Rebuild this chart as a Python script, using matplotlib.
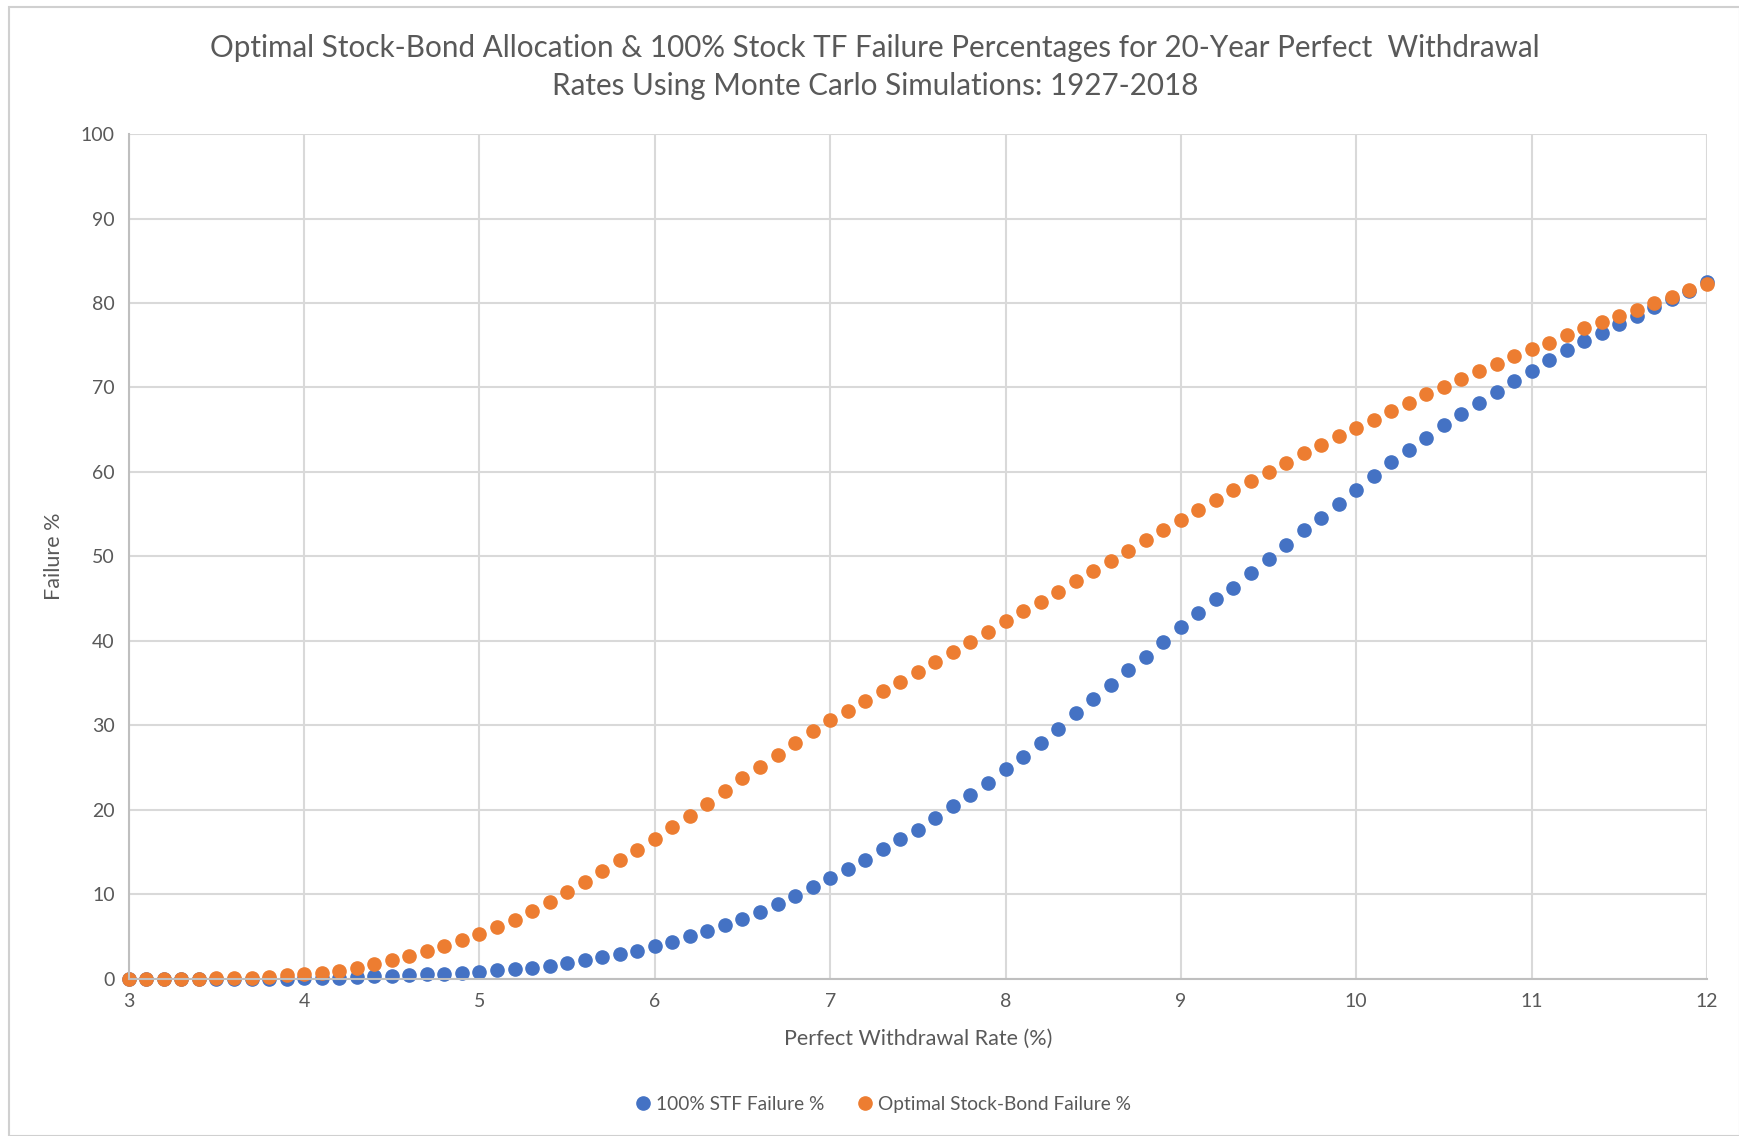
import numpy as np
import matplotlib
matplotlib.use('Agg')
import matplotlib.pyplot as plt

plt.rcParams['font.family'] = ['Lato', 'DejaVu Sans']

# withdrawal rates 3.0 .. 12.0 step 0.1
rates = [round(3.0 + 0.1 * i, 1) for i in range(91)]

stf_fail = [
    0, 0, 0, 0, 0, 0, 0, 0, 0, 0,
    0.05, 0.1, 0.1, 0.2, 0.3, 0.3, 0.4, 0.5, 0.6, 0.7,
    0.8, 1.0, 1.1, 1.3, 1.5, 1.8, 2.2, 2.6, 2.9, 3.3,
    3.9, 4.4, 5.0, 5.6, 6.3, 7.1, 7.9, 8.8, 9.8, 10.8,
    11.9, 13.0, 14.1, 15.3, 16.5, 17.6, 19.0, 20.4, 21.7, 23.2,
    24.8, 26.3, 27.9, 29.6, 31.4, 33.1, 34.8, 36.5, 38.1, 39.9,
    41.6, 43.3, 44.9, 46.3, 48.0, 49.7, 51.4, 53.1, 54.6, 56.2,
    57.9, 59.5, 61.2, 62.6, 64.0, 65.5, 66.9, 68.2, 69.5, 70.8,
    72.0, 73.2, 74.4, 75.5, 76.5, 77.5, 78.5, 79.5, 80.5, 81.4,
    82.5,
]

opt_fail = [
    0, 0, 0, 0, 0, 0.05, 0.1, 0.1, 0.2, 0.4,
    0.5, 0.7, 0.9, 1.3, 1.7, 2.2, 2.7, 3.3, 3.9, 4.6,
    5.3, 6.1, 7.0, 8.0, 9.1, 10.3, 11.5, 12.7, 14.0, 15.2,
    16.5, 17.9, 19.3, 20.7, 22.2, 23.7, 25.1, 26.5, 27.9, 29.3,
    30.6, 31.7, 32.9, 34.0, 35.1, 36.3, 37.5, 38.7, 39.9, 41.1,
    42.3, 43.5, 44.6, 45.8, 47.1, 48.3, 49.4, 50.6, 51.9, 53.1,
    54.3, 55.5, 56.7, 57.8, 58.9, 60.0, 61.0, 62.2, 63.2, 64.2,
    65.2, 66.2, 67.2, 68.2, 69.2, 70.1, 71.0, 72.0, 72.8, 73.7,
    74.6, 75.3, 76.2, 77.0, 77.7, 78.4, 79.2, 80.0, 80.7, 81.5,
    82.3,
]

x_ticks = [3, 4, 5, 6, 7, 8, 9, 10, 11, 12]
y_ticks = [0, 10, 20, 30, 40, 50, 60, 70, 80, 90, 100]

text_col = '#595959'
grid_col = '#d9d9d9'

fig = plt.figure(figsize=(17.4, 11.36), dpi=100, facecolor='white')
fig.patches.append(plt.Rectangle((0.005, 0.0), 0.995, 0.994, transform=fig.transFigure,
                                 fill=False, edgecolor='#d0d0d0', linewidth=1.5))
ax = fig.add_axes([0.074, 0.1385, 0.907, 0.7435])

ax.plot(rates, stf_fail, 'o', color='#4472c4', markersize=9.5, label='100% STF Failure %')
ax.plot(rates, opt_fail, 'o', color='#ed7d31', markersize=9.5, label='Optimal Stock-Bond Failure %')

ax.set_xlim(3, 12)
ax.set_ylim(0, 100)
ax.set_xticks(x_ticks)
ax.set_yticks(y_ticks)
ax.grid(True, color=grid_col, linewidth=1.5)
ax.set_axisbelow(True)
for s in ['top', 'right']:
    ax.spines[s].set_visible(False)
ax.spines['left'].set_color('#bfbfbf')
ax.spines['bottom'].set_color('#bfbfbf')
ax.spines['left'].set_linewidth(1.5)
ax.spines['bottom'].set_linewidth(1.5)
ax.tick_params(length=0, labelsize=14, labelcolor=text_col, pad=10)
for line in ax.get_lines():
    line.set_clip_on(False)

ax.set_xlabel('Perfect Withdrawal Rate (%)', fontsize=15.5, color=text_col, labelpad=14)
ax.set_ylabel('Failure %', fontsize=15.5, color=text_col, labelpad=12)

fig.text(0.503, 0.958, 'Optimal Stock-Bond Allocation & 100% Stock TF Failure Percentages for 20-Year Perfect  Withdrawal',
         ha='center', va='center', fontsize=21.3, color=text_col)
fig.text(0.503, 0.924, 'Rates Using Monte Carlo Simulations: 1927-2018',
         ha='center', va='center', fontsize=21.3, color=text_col)

fig.legend(loc='center', bbox_to_anchor=(0.507, 0.028), ncol=2, frameon=False,
           fontsize=13.8, labelcolor=text_col, handlelength=1.0, handletextpad=0.2,
           columnspacing=1.6, markerscale=1.0)

plt.savefig('out.png', dpi=100)
